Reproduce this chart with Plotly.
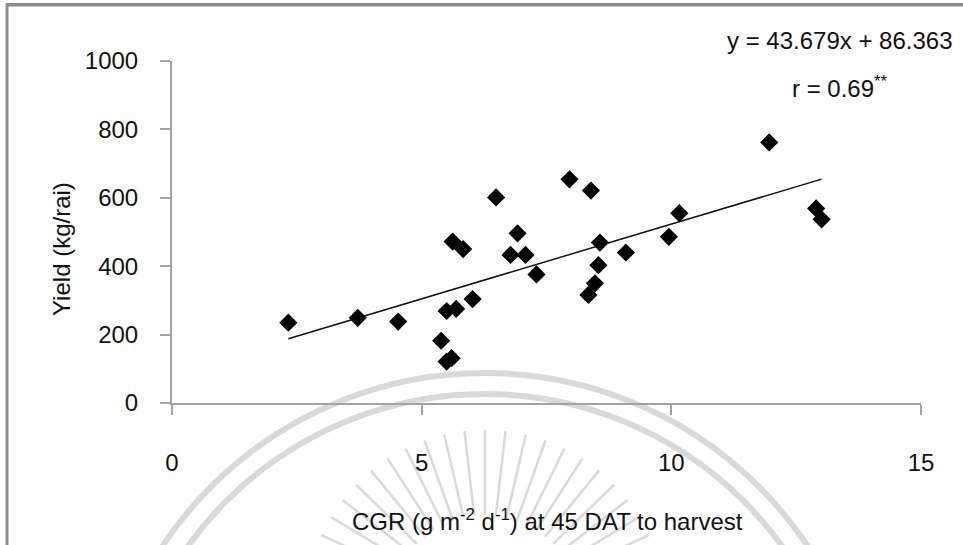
import math
import plotly.graph_objects as go

# ---- data ----
cgr = [2.33, 3.72, 4.53, 5.39, 5.50, 5.60, 5.50, 5.69, 6.02, 5.62, 5.83, 6.49,
       6.92, 6.78, 7.08, 7.30, 7.96, 8.39, 11.96, 10.16, 8.57, 9.09, 9.95, 8.54,
       8.47, 8.34, 12.90, 13.01]
yield_kg = [235, 249, 238, 182, 121, 131, 269, 275, 304, 472, 450, 601,
            496, 433, 433, 376, 654, 621, 762, 555, 469, 440, 486, 403,
            350, 316, 569, 537]
slope = 43.679
intercept = 86.363
x_ticks = [0, 5, 10, 15]
y_ticks = [0, 200, 400, 600, 800, 1000]
eq_text = "y = 43.679x + 86.363"
r_text = "r = 0.69<sup>**</sup>"
x_title = "CGR (g m<sup>-2</sup> d<sup>-1</sup>) at 45 DAT to harvest"
y_title = "Yield (kg/rai)"

W, H = 963, 545
L, R, T, B = 172, 921, 61, 403  # plot area in pixels
PW, PH = R - L, B - T


def px(x):
    return (x - L) / PW


def py(y):
    return (B - y) / PH


FONT = "Liberation Sans, Arial, sans-serif"
AXC = "#a3a3a3"

fig = go.Figure()

x_line = [min(cgr), max(cgr)]
fig.add_trace(go.Scatter(
    x=x_line, y=[slope * v + intercept for v in x_line], mode="lines",
    line=dict(color="#111111", width=1.5), hoverinfo="skip", showlegend=False))

fig.add_trace(go.Scatter(
    x=cgr, y=yield_kg, mode="markers",
    marker=dict(symbol="diamond", size=14, color="#000000", line=dict(width=0)),
    showlegend=False))

shapes = []
# watermark (faint logo arcs and rays)
wm = "#d9d9d9"
cx, cy = 485, 760
for r in (387, 366):
    shapes.append(dict(type="circle", xref="paper", yref="paper",
                       x0=px(cx - r), x1=px(cx + r), y0=py(cy + r), y1=py(cy - r),
                       line=dict(color=wm, width=6), layer="below"))
rcx, rcy = 485, 610
n = 23
for i in range(n):
    a = math.radians(18 + i * (144 / (n - 1)))
    r0, r1 = 95, 180
    shapes.append(dict(type="line", xref="paper", yref="paper",
                       x0=px(rcx + r0 * math.cos(a)), y0=py(rcy - r0 * math.sin(a)),
                       x1=px(rcx + r1 * math.cos(a)), y1=py(rcy - r1 * math.sin(a)),
                       line=dict(color=wm, width=2.5), layer="below"))
# outer chart border (top and left edges visible)
shapes.append(dict(type="rect", xref="paper", yref="paper",
                   x0=px(6), x1=px(963), y0=py(6.5), y1=py(3),
                   line=dict(width=0), fillcolor="#8c8c8c", layer="below"))
shapes.append(dict(type="rect", xref="paper", yref="paper",
                   x0=px(5.5), x1=px(8.5), y0=py(545), y1=py(3),
                   line=dict(width=0), fillcolor="#8c8c8c", layer="below"))

annotations = [
    dict(text=eq_text, x=px(840), y=py(40), xref="paper", yref="paper",
         showarrow=False, font=dict(size=24, color="#111111", family=FONT),
         xanchor="center", yanchor="middle"),
    dict(text=r_text, x=px(840), y=py(87), xref="paper", yref="paper",
         showarrow=False, font=dict(size=24, color="#111111", family=FONT),
         xanchor="center", yanchor="middle"),
    dict(text=x_title, x=px(547), y=py(520), xref="paper", yref="paper",
         showarrow=False, font=dict(size=24, color="#111111", family=FONT),
         xanchor="center", yanchor="middle"),
    dict(text=y_title, x=px(61), y=py(249), xref="paper", yref="paper",
         showarrow=False, textangle=-90, font=dict(size=24, color="#111111", family=FONT),
         xanchor="center", yanchor="middle"),
]

fig.update_layout(
    width=W, height=H,
    margin=dict(l=L, r=W - R, t=T, b=H - B, autoexpand=False),
    paper_bgcolor="white", plot_bgcolor="rgba(0,0,0,0)",
    font=dict(family=FONT, size=24, color="#111111"),
    shapes=shapes, annotations=annotations, showlegend=False,
    xaxis=dict(range=[0, 15], tickvals=x_ticks, showgrid=False, zeroline=False,
               showline=True, linecolor=AXC, linewidth=2, ticks="outside",
               ticklen=10, tickwidth=2, tickcolor=AXC, ticklabelstandoff=27,
               tickfont=dict(size=24, color="#111111")),
    yaxis=dict(range=[0, 1000], tickvals=y_ticks, showgrid=False, zeroline=False,
               showline=True, linecolor=AXC, linewidth=2, ticks="outside",
               ticklen=10, tickwidth=2, tickcolor=AXC, ticklabelstandoff=17,
               tickfont=dict(size=24, color="#111111")),
)

fig.write_html(
    "out.html",
    config={"displayModeBar": False},
    post_script="document.body.style.margin='0';document.body.style.padding='0';"
                "document.body.style.overflow='hidden';",
)
